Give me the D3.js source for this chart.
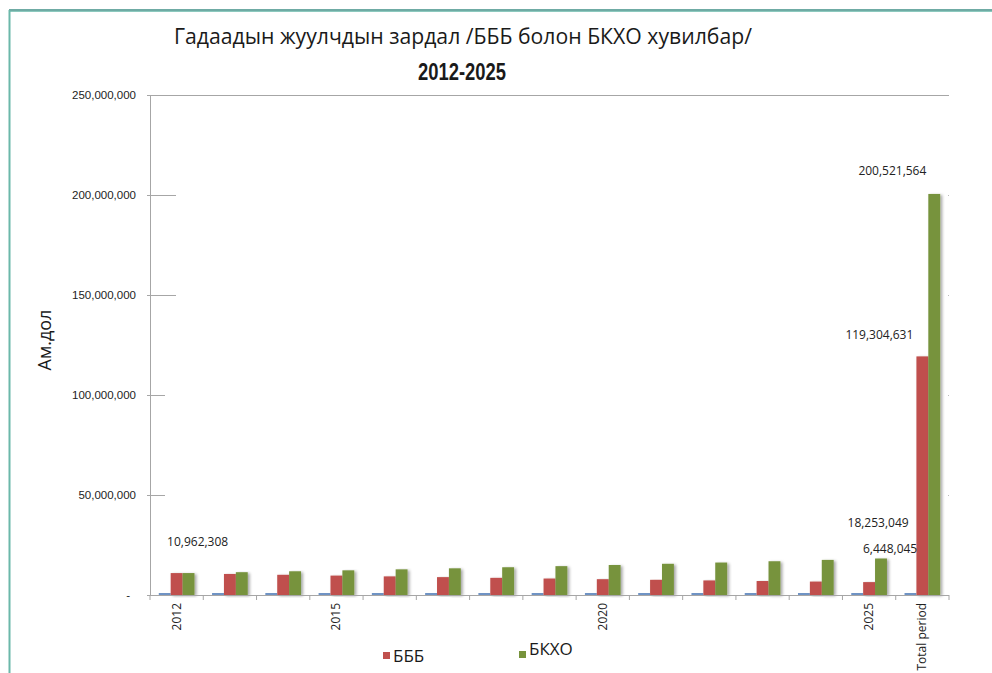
<!DOCTYPE html>
<html><head><meta charset="utf-8">
<script src="https://cdn.jsdelivr.net/npm/d3@7/dist/d3.min.js"></script>
<style>
body{margin:0;background:#fff;}
svg{display:block;font-family:"Open Sans","Noto Sans",sans-serif;}
</style></head>
<body><svg id="c" width="992" height="673"></svg>
<script>
const categories = ["2012","2013","2014","2015","2016","2017","2018","2019","2020","2021","2022","2023","2024","2025","Total period"];
const shownLabels = ["2012","2015","2020","2025","Total period"];
const baseSeries = [300000,300000,300000,300000,300000,300000,300000,300000,300000,300000,300000,300000,300000,300000,300000];
const bbbValues = [10962308,10523816,10102863,9698748,9310798,8938366,8580832,8237598,7908094,7591770,7288099,6996575,6716712,6448045,119304631];
const bkhoValues = [10962308,11400800,11856832,12331105,12824349,13337323,13870816,14425648,15002674,15602781,16226892,16875968,17551007,18253049,200521564];
const yTicks = [0,50000000,100000000,150000000,200000000,250000000];
const seriesNames = ["БББ","БКХО"];
const titleText = "Гадаадын жуулчдын зардал /БББ болон БКХО хувилбар/";
const subtitleText = "2012-2025";
const yTitle = "Ам.дол";
const dataLabels = [
  {cat:"2012", text:"10,962,308", dx:21, y:542},
  {cat:"2025", text:"6,448,045", dx:21, y:549},
  {cat:"2025", text:"18,253,049", dx:9, y:523},
  {cat:"Total period", text:"119,304,631", dx:-43, y:335},
  {cat:"Total period", text:"200,521,564", dx:-30, y:171}
];

const svg = d3.select("#c");
const defs = svg.append("defs");
const f = defs.append("filter").attr("id","sh").attr("x","-30%").attr("y","-5%").attr("width","170%").attr("height","115%");
f.append("feDropShadow").attr("dx",2).attr("dy",1).attr("stdDeviation",1.4).attr("flood-color","#000").attr("flood-opacity",0.35);

// frame
svg.append("line").attr("x1",9).attr("x2",992).attr("y1",10).attr("y2",10).attr("stroke","#3f8f86").attr("stroke-width",1.5);
svg.append("line").attr("x1",9).attr("x2",992).attr("y1",11.5).attr("y2",11.5).attr("stroke","#8cc9be").attr("stroke-width",1);
svg.append("line").attr("x1",9.5).attr("x2",9.5).attr("y1",10).attr("y2",673).attr("stroke","#6bb8aa").attr("stroke-width",2);

const x0 = 150, x1 = 949, yTop = 95, yBot = 595;
const x = d3.scaleBand().domain(categories).range([x0,x1]).paddingInner(0.33).paddingOuter(0.165);
const xs = d3.scaleBand().domain(["base","bbb","bkho"]).range([0,x.bandwidth()]);
const y = d3.scaleLinear().domain([0,250000000]).range([yBot,yTop]);

// titles
svg.append("text").attr("x",463).attr("y",44).attr("text-anchor","middle")
  .style("font-size","21px").attr("fill","#1a1a1a")
  .attr("transform","translate(463,0) scale(1.01,1) translate(-463,0)").text(titleText);
svg.append("text").attr("x",462).attr("y",80).attr("text-anchor","middle")
  .style("font-family","'Liberation Sans',Arial,sans-serif").style("font-weight","bold").style("font-size","23px").attr("fill","#1a1a1a")
  .attr("transform","translate(462,0) scale(0.8,1) translate(-462,0)").text(subtitleText);

// y axis
const ya = svg.append("g").attr("transform",`translate(${x0},0)`)
  .call(d3.axisLeft(y).tickValues(yTicks).tickSize(3).tickFormat(d=> d===0 ? "-" : d3.format(",")(d)));
ya.select(".domain").attr("stroke","#a6a6a6");
ya.selectAll(".tick line").attr("stroke","#a6a6a6");
ya.selectAll(".tick text").attr("fill","#222").style("font-size","11.5px").attr("x",-14);
ya.selectAll(".tick").filter(d=>d===0).select("text").attr("x",-20);
const innerLen = {50000000:15,100000000:15,150000000:26,200000000:26};
svg.append("g").selectAll("line").data(yTicks.filter(d=>innerLen[d])).join("line")
  .attr("x1",x0).attr("x2",d=>x0+innerLen[d]).attr("y1",d=>y(d)+0.5).attr("y2",d=>y(d)+0.5)
  .attr("stroke","#a6a6a6");
svg.append("line").attr("x1",x0).attr("x2",x1).attr("y1",y(250000000)+0.5).attr("y2",y(250000000)+0.5).attr("stroke","#a6a6a6");
svg.append("g").selectAll("rect").data(yTicks.filter(d=>innerLen[d])).join("rect")
  .attr("x",x1-1).attr("y",d=>y(d)).attr("width",1).attr("height",1).attr("fill","#bbb");

// bars
const series = [
  {key:"base", values:baseSeries, color:"#6f93c4"},
  {key:"bbb", values:bbbValues, color:"#c0504d"},
  {key:"bkho", values:bkhoValues, color:"#77933c"}
];
const bars = svg.append("g");
series.forEach(s=>{
  bars.append("g").selectAll("rect").data(categories.map((c,i)=>({c,v:s.values[i]}))).join("rect")
    .attr("x",d=>x(d.c)+xs(s.key)).attr("width",xs.bandwidth())
    .attr("y",d=>Math.min(y(d.v),yBot-2)).attr("height",d=>Math.max(2,yBot-y(d.v)))
    .attr("fill",s.color).attr("filter", s.key==="base"?null:"url(#sh)");
});

// x axis
const xa = svg.append("g").attr("transform",`translate(0,${yBot})`);
xa.append("line").attr("x1",x0).attr("x2",x1).attr("y1",0.5).attr("y2",0.5).attr("stroke","#a6a6a6");
const bounds = d3.range(categories.length+1).map(i=>x0+i*(x1-x0)/categories.length);
xa.selectAll("line.tk").data(bounds).join("line").attr("class","tk")
  .attr("x1",d=>d).attr("x2",d=>d).attr("y1",0).attr("y2",5).attr("stroke","#a6a6a6");
xa.selectAll("text").data(shownLabels).join("text")
  .attr("transform",d=>`translate(${x(d)+x.bandwidth()/2+4},8) rotate(-90)`)
  .attr("text-anchor","end").attr("fill","#222").style("font-size","12px").text(d=>d);

// data labels
svg.append("g").selectAll("text").data(dataLabels).join("text")
  .attr("x",d=>x(d.cat)+x.bandwidth()/2+d.dx).attr("y",d=>d.y+4)
  .attr("text-anchor","middle").attr("fill","#222").style("font-size","12px").text(d=>d.text);

// y title
svg.append("text").attr("transform","translate(51,340) rotate(-90)").attr("text-anchor","middle")
  .attr("fill","#1a1a1a").style("font-size","18px").text(yTitle);

// legend
const leg = [{name:seriesNames[0],color:"#c0504d",x:383,y:652,ty:662},{name:seriesNames[1],color:"#77933c",x:519,y:651,ty:655}];
leg.forEach(l=>{
  svg.append("rect").attr("x",l.x).attr("y",l.y).attr("width",7).attr("height",7).attr("fill",l.color);
  svg.append("text").attr("x",l.x+10).attr("y",l.ty).attr("fill","#1a1a1a").style("font-size","17px").text(l.name);
});
</script></body></html>
